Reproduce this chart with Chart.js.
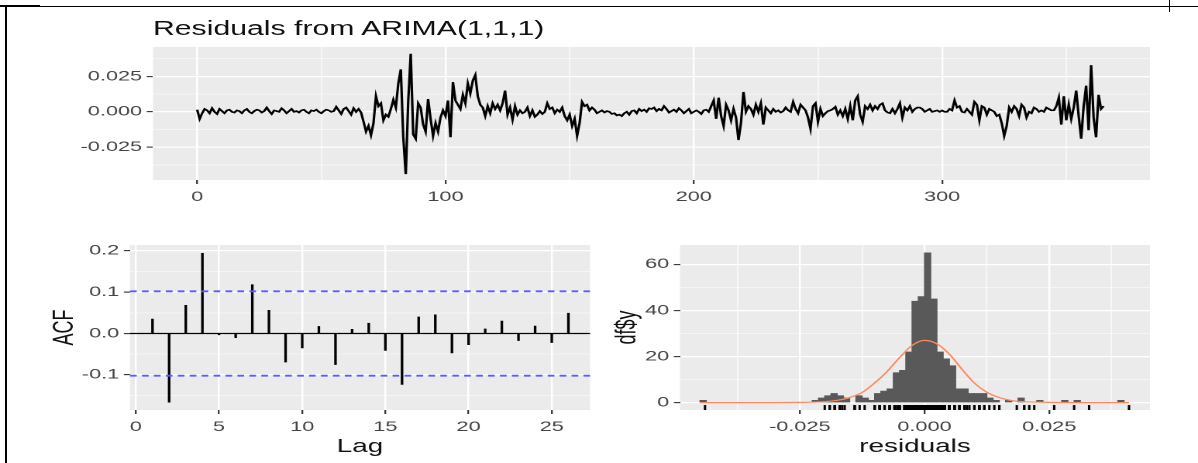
<!DOCTYPE html>
<html>
<head>
<meta charset="utf-8">
<script src="https://cdn.jsdelivr.net/npm/chart.js@4.4.1/dist/chart.umd.min.js"></script>
<style>
  body { margin: 0; background: #fff; }
  #page { position: relative; width: 1198px; height: 463px; overflow: hidden; background: #fff; }
  /* the reference picture is stretched sideways, so the whole figure is drawn narrow and widened */
  #stretch { position: absolute; left: 0; top: 0; width: 773px; height: 463px; transform-origin: 0 0; transform: scaleX(1.5498); }
  .box { position: absolute; }
  #title { position: absolute; left: 98.7px; top: 18px; font: 19.5px 'Liberation Sans', Arial, sans-serif; line-height: 20px; color: #111; white-space: nowrap; }
  .rule { position: absolute; background: #000; }
</style>
</head>
<body>
<div id="page">
  <div id="stretch">
    <div id="title">Residuals from ARIMA(1,1,1)</div>
    <div class="box" style="left:0;top:0;width:773px;height:215px"><canvas id="js--chart--1"></canvas></div>
    <div class="box" style="left:0;top:215px;width:390px;height:248px"><canvas id="js--chart--2"></canvas></div>
    <div class="box" style="left:390px;top:215px;width:383px;height:248px"><canvas id="js--chart--3"></canvas></div>
  </div>
  <div class="rule" style="left:5px;top:6px;width:2px;height:457px"></div>
  <div class="rule" style="left:5px;top:6px;width:1193px;height:1px"></div>
  <div class="rule" style="left:0;top:5px;width:40px;height:2px"></div>
  <div class="rule" style="left:1169px;top:0;width:1px;height:12px"></div>
</div>
<script>
// residuals (index 0..365)
const residuals = [
    0.0015, -0.0050, -0.0010, 0.0020, 0.0010, -0.0010, 0.0025, 0.0000, -0.0015, 0.0020,
    0.0005, -0.0010, 0.0010, 0.0015, 0.0000, -0.0005, 0.0010, 0.0005, -0.0010, 0.0010,
    0.0020, 0.0000, -0.0010, 0.0005, 0.0015, 0.0010, -0.0005, 0.0005, 0.0030, 0.0005,
    -0.0015, 0.0010, 0.0005, 0.0000, 0.0025, 0.0010, -0.0010, 0.0005, 0.0020, 0.0000,
    0.0005, -0.0005, 0.0010, 0.0015, 0.0000, -0.0010, 0.0010, 0.0005, 0.0015, 0.0000,
    -0.0010, 0.0005, 0.0015, 0.0010, 0.0000, 0.0005, 0.0035, 0.0010, -0.0015, 0.0020,
    0.0030, 0.0005, -0.0020, 0.0025, 0.0000, 0.0020, -0.0005, -0.0070, -0.0140, -0.0100,
    -0.0165, -0.0080, 0.0110, 0.0040, 0.0060, -0.0060, -0.0020, -0.0035, 0.0020, 0.0085,
    0.0030, 0.0200, 0.0300, -0.0180, -0.0440, 0.0080, 0.0410, -0.0160, -0.0190, 0.0060,
    0.0030, -0.0090, -0.0140, 0.0090, -0.0050, -0.0170, -0.0080, -0.0140, -0.0040, 0.0010,
    -0.0030, 0.0080, -0.0180, 0.0210, 0.0080, 0.0050, 0.0020, 0.0120, 0.0060, 0.0200,
    0.0130, 0.0220, 0.0260, 0.0110, 0.0050, 0.0030, -0.0030, 0.0040, -0.0010, 0.0060,
    0.0020, 0.0050, 0.0010, 0.0060, 0.0150, -0.0020, 0.0030, -0.0055, 0.0040, -0.0020,
    0.0010, -0.0010, 0.0000, 0.0030, -0.0030, 0.0010, -0.0035, -0.0020, 0.0005, -0.0015,
    0.0000, 0.0060, 0.0020, 0.0030, -0.0010, 0.0015, 0.0000, 0.0030, -0.0030, -0.0060,
    -0.0020, -0.0100, -0.0050, -0.0170, -0.0080, 0.0070, 0.0040, 0.0050, 0.0010, 0.0030,
    0.0015, -0.0010, 0.0000, 0.0010, -0.0005, 0.0005, 0.0000, -0.0015, -0.0010, -0.0025,
    -0.0020, -0.0030, -0.0010, 0.0000, -0.0020, 0.0005, 0.0010, -0.0010, 0.0020, 0.0005,
    0.0015, 0.0000, 0.0025, 0.0020, 0.0030, 0.0005, 0.0020, 0.0010, 0.0040, 0.0020,
    -0.0005, 0.0005, 0.0015, 0.0000, 0.0025, 0.0010, -0.0010, 0.0005, 0.0020, -0.0010,
    0.0000, 0.0010, 0.0000, -0.0015, 0.0010, 0.0015, 0.0000, 0.0040, 0.0080, -0.0050,
    0.0100, -0.0030, -0.0100, 0.0050, 0.0010, -0.0060, 0.0020, -0.0040, -0.0200, -0.0080,
    0.0140, 0.0000, 0.0040, 0.0020, -0.0020, 0.0050, 0.0000, 0.0060, -0.0090, 0.0030,
    0.0010, -0.0010, 0.0020, 0.0000, 0.0010, -0.0005, 0.0005, 0.0030, 0.0010, 0.0000,
    0.0070, 0.0020, -0.0010, 0.0050, 0.0030, 0.0010, -0.0040, -0.0120, 0.0040, 0.0060,
    -0.0070, 0.0020, -0.0030, -0.0010, 0.0005, 0.0010, 0.0020, 0.0035, -0.0020, 0.0010,
    -0.0030, 0.0020, -0.0050, 0.0040, -0.0060, 0.0080, 0.0110, -0.0020, -0.0070, 0.0040,
    0.0020, 0.0050, 0.0010, 0.0040, 0.0020, 0.0050, 0.0060, 0.0010, -0.0005, -0.0010,
    0.0020, -0.0010, 0.0020, 0.0060, -0.0040, 0.0030, 0.0010, 0.0040, 0.0000, 0.0020,
    0.0030, 0.0030, 0.0020, 0.0000, 0.0010, 0.0020, 0.0000, 0.0005, 0.0010, 0.0000,
    0.0010, 0.0000, 0.0000, 0.0020, 0.0010, 0.0080, 0.0030, 0.0040, 0.0000, -0.0005,
    0.0020, 0.0000, -0.0020, 0.0070, 0.0050, -0.0060, 0.0040, 0.0030, -0.0020, 0.0020,
    0.0010, 0.0000, -0.0030, -0.0020, -0.0080, -0.0170, -0.0100, 0.0030, 0.0000, 0.0040,
    0.0020, -0.0030, 0.0050, 0.0030, -0.0040, 0.0000, -0.0010, 0.0030, 0.0020, 0.0000,
    0.0010, 0.0000, 0.0030, 0.0020, 0.0010,
    0.0010, 0.0040, 0.0100, -0.0090, 0.0110, -0.0060, 0.0050, -0.0050, 0.0030, 0.0150,
    -0.0030, -0.0190, 0.0040, 0.0185, -0.0130, 0.0330, -0.0040, -0.0180, 0.0120, 0.0020, 0.0040
];

// ACF of the residuals
const acfLags = [1, 2, 3, 4, 5, 6, 7, 8, 9, 10, 11, 12, 13, 14, 15, 16, 17, 18, 19, 20, 21, 22, 23, 24, 25, 26];
const acfValues = [0.035, -0.166, 0.068, 0.194, -0.003, -0.010, 0.118, 0.056, -0.069, -0.035, 0.017, -0.075, 0.010,
    0.025, -0.041, -0.123, 0.040, 0.045, -0.047, -0.027, 0.011, 0.030, -0.017, 0.018, -0.022, 0.049];
const ciLimit = 0.102;

// histogram (bin centres, bins are 0.00125 wide) and the normal curve on top of it
const histCenters = [-0.044375, -0.021875, -0.020625, -0.019375, -0.018125, -0.016875, -0.015625, -0.013125,
    -0.011875, -0.010625, -0.009375, -0.008125, -0.006875, -0.005625, -0.004375, -0.003125, -0.001875,
    -0.000625, 0.000625, 0.001875, 0.003125, 0.004375, 0.005625, 0.006875, 0.008125, 0.009375, 0.010625,
    0.011875, 0.013125, 0.014375, 0.016875, 0.019375, 0.023125, 0.028125, 0.030625, 0.039375];
const histCounts = [1, 1, 2, 3, 4, 3, 2, 3, 2, 1, 4, 5, 6, 13, 14, 22, 44, 46, 65, 45, 22, 19, 16, 6, 6, 4, 4, 4, 2, 1,
    1, 2, 1, 1, 1, 1];
const curveX = [-0.045, -0.035, -0.025, -0.02, -0.0175, -0.015, -0.0125, -0.01, -0.0075, -0.005, -0.0025, 0,
    0.0025, 0.005, 0.0075, 0.01, 0.0125, 0.015, 0.0175, 0.02, 0.025, 0.035, 0.041];
const curveY = [0, 0, 0.1, 0.4, 1.0, 2.2, 4.4, 8.5, 13.5, 19.5, 24.8, 27, 25.5, 21, 14.5, 8.5, 4.5, 2.2, 0.9, 0.4,
    0.1, 0, 0];

// axis ticks (major = labelled, minor = grid only)
const topXTicks = [0, 100, 200, 300];
const topXLabels = ['0', '100', '200', '300'];
const topXMinor = [50, 150, 250, 350];
const topYTicks = [-0.025, 0, 0.025];
const topYLabels = ['-0.025', '0.000', '0.025'];
const topYMinor = [-0.0375, -0.0125, 0.0125, 0.0375];
const acfXTicks = [0, 5, 10, 15, 20, 25];
const acfXLabels = ['0', '5', '10', '15', '20', '25'];
const acfYTicks = [-0.1, 0, 0.1, 0.2];
const acfYLabels = ['-0.1', '0.0', '0.1', '0.2'];
const acfYMinor = [-0.15, -0.05, 0.05, 0.15];
const histXTicks = [-0.025, 0, 0.025];
const histXLabels = ['-0.025', '0.000', '0.025'];
const histXMinor = [-0.0375, -0.0125, 0.0125, 0.0375];
const histYTicks = [0, 20, 40, 60];
const histYLabels = ['0', '20', '40', '60'];
const histYMinor = [10, 30, 50];

Chart.defaults.font.family = "'Liberation Sans', Arial, sans-serif";
Chart.defaults.font.size = 14;
Chart.defaults.color = '#4d4d4d';
Chart.defaults.animation = false;
Chart.defaults.maintainAspectRatio = false;
Chart.defaults.plugins.legend.display = false;
Chart.defaults.plugins.tooltip.enabled = false;

function ggAxis(o) {
    const minor = o.minor || [];
    const isMajor = (ctx) => ctx.tick ? o.major.includes(ctx.tick.value) : true;
    return {
        type: 'linear',
        position: o.pos,
        min: o.min,
        max: o.max,
        offset: false,
        afterBuildTicks: (scale) => {
            scale.ticks = o.major.concat(minor).sort((a, b) => a - b).map(v => ({value: v}));
        },
        afterFit: (scale) => {
            if (o.pos === 'left') scale.width = o.size;
            else scale.height = o.size;
        },
        ticks: {
            autoSkip: false,
            maxRotation: 0,
            padding: o.pos === 'left' ? 3 : 4.6,
            color: '#444444',
            callback: (v) => {
                const i = o.major.indexOf(v);
                return i < 0 ? '' : o.labels[i];
            }
        },
        grid: {
            offset: false,
            color: '#ffffff',
            lineWidth: (ctx) => isMajor(ctx) ? 1.2 : 0.6,
            tickLength: 4,
            tickWidth: 1.1,
            tickColor: (ctx) => isMajor(ctx) ? '#333333' : 'rgba(0,0,0,0)'
        },
        border: {display: false},
        title: o.title ? {
            display: true,
            text: o.title,
            color: '#111111',
            font: {size: 18},
            padding: o.titlePad
        } : {display: false}
    };
}

const panelBg = {
    id: 'panelBg',
    beforeDraw(chart) {
        const a = chart.chartArea;
        const c = chart.ctx;
        c.save();
        c.fillStyle = '#ebebeb';
        c.fillRect(a.left, a.top, a.right - a.left, a.bottom - a.top);
        c.restore();
    }
};

const acfLines = {
    id: 'acfLines',
    afterDatasetsDraw(chart) {
        const c = chart.ctx;
        const a = chart.chartArea;
        const y = chart.scales.y;
        c.save();
        c.strokeStyle = '#000000';
        c.lineWidth = 1.2;
        const y0 = y.getPixelForValue(0);
        c.beginPath(); c.moveTo(a.left, y0); c.lineTo(a.right, y0); c.stroke();
        c.strokeStyle = '#5a5aff';
        c.lineWidth = 1.9;
        c.setLineDash([4.3, 3.4]);
        [ciLimit, -ciLimit].forEach(v => {
            const py = y.getPixelForValue(v);
            c.beginPath(); c.moveTo(a.left, py); c.lineTo(a.right, py); c.stroke();
        });
        c.restore();
    }
};

const rug = {
    id: 'rug',
    afterDatasetsDraw(chart) {
        const c = chart.ctx;
        const a = chart.chartArea;
        const x = chart.scales.x;
        const len = (a.bottom - a.top) * 0.03;
        c.save();
        c.strokeStyle = '#000000';
        c.lineWidth = 1.5;
        residuals.forEach(v => {
            const px = x.getPixelForValue(v);
            c.beginPath(); c.moveTo(px, a.bottom); c.lineTo(px, a.bottom - len); c.stroke();
        });
        c.restore();
    }
};

// top: residual series
const chart1 = new Chart(document.getElementById('js--chart--1'), {
    type: 'line',
    data: {
        datasets: [{
            data: residuals.map((v, i) => ({x: i, y: v})),
            borderColor: '#000000',
            borderWidth: 1.6,
            pointRadius: 0,
            tension: 0
        }]
    },
    options: {
        devicePixelRatio: 2,
        layout: {padding: {left: 0, top: 47, right: 31, bottom: 0}},
        scales: {
            x: ggAxis({pos: 'bottom', min: -17.8, max: 383.7, major: topXTicks, labels: topXLabels, minor: topXMinor, size: 35}),
            y: ggAxis({pos: 'left', min: -0.0482, max: 0.0458, major: topYTicks, labels: topYLabels, minor: topYMinor, size: 98.7})
        }
    },
    plugins: [panelBg]
});

// bottom left: ACF
const chart2 = new Chart(document.getElementById('js--chart--2'), {
    type: 'bar',
    data: {
        datasets: [{
            data: acfLags.map((l, i) => ({x: l, y: acfValues[i]})),
            backgroundColor: '#000000',
            barThickness: 1.0
        }]
    },
    options: {
        devicePixelRatio: 2,
        layout: {padding: {left: 0, top: 30, right: 9.3, bottom: 0}},
        scales: {
            x: ggAxis({pos: 'bottom', min: -0.35, max: 27.3, major: acfXTicks, labels: acfXLabels, size: 53,
                title: 'Lag', titlePad: {top: 0, bottom: 5}}),
            y: ggAxis({pos: 'left', min: -0.185, max: 0.214, major: acfYTicks, labels: acfYLabels, minor: acfYMinor, size: 83.9,
                title: 'ACF', titlePad: {top: 31, bottom: 0}})
        }
    },
    plugins: [panelBg, acfLines]
});

// bottom right: histogram with normal curve and rug
const chart3 = new Chart(document.getElementById('js--chart--3'), {
    type: 'bar',
    data: {
        datasets: [
            {
                type: 'line',
                order: 0,
                data: curveX.map((x, i) => ({x: x, y: curveY[i]})),
                borderColor: '#ff8a62',
                borderWidth: 1.2,
                pointRadius: 0,
                cubicInterpolationMode: 'monotone'
            },
            {
                order: 1,
                data: histCenters.map((x, i) => ({x: x, y: histCounts[i]})),
                backgroundColor: '#595959',
                borderWidth: 0,
                barPercentage: 1,
                categoryPercentage: 1
            }
        ]
    },
    options: {
        devicePixelRatio: 2,
        layout: {padding: {left: 0, top: 30, right: 31, bottom: 0}},
        scales: {
            x: ggAxis({pos: 'bottom', min: -0.049, max: 0.0452, major: histXTicks, labels: histXLabels, minor: histXMinor, size: 53,
                title: 'residuals', titlePad: {top: 0, bottom: 5}}),
            y: ggAxis({pos: 'left', min: -3.2, max: 68.4, major: histYTicks, labels: histYLabels, minor: histYMinor, size: 48.8,
                title: 'df$y', titlePad: {top: 4, bottom: 0}})
        }
    },
    plugins: [panelBg, rug]
});
</script>
</body>
</html>
